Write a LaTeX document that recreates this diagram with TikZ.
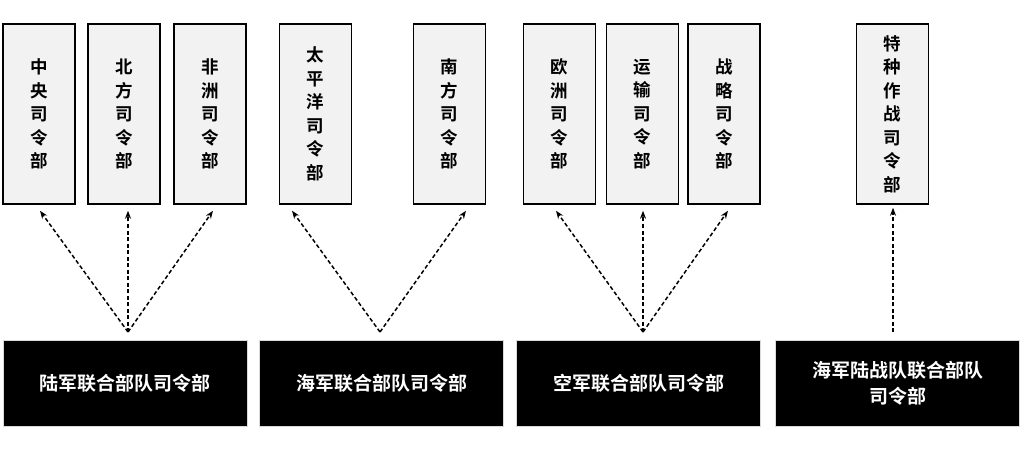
\documentclass[tikz,border=0pt]{standalone}
\usepackage{fontspec}
\newfontfamily\cjk{Noto Sans CJK SC Bold}
\usetikzlibrary{arrows.meta,calc}
\tikzset{
  topbox/.style={draw=black,line width=1.5pt,fill=black!5,minimum width=72pt,minimum height=180pt,inner sep=0pt,align=center,font=\cjk\fontsize{17.5}{23.5}\selectfont},
  cmdbox/.style={draw=black!15,line width=0.5pt,fill=black,text=white,minimum width=244pt,minimum height=86pt,inner sep=0pt,align=center,font=\cjk\fontsize{19}{26}\selectfont},
  link/.style={line width=1.5pt,dash pattern=on 4pt off 2.5pt,-{Stealth[length=8pt,width=6pt]}}
}
\begin{document}
\begin{tikzpicture}[x=1pt,y=-1pt]
\useasboundingbox (0,0) rectangle (1024,454);
% top boxes
\node[topbox] (zy) at (39,114) {中\\央\\司\\令\\部};
\node[topbox] (bf) at (124,114) {北\\方\\司\\令\\部};
\node[topbox] (fz) at (210,114) {非\\洲\\司\\令\\部};
\node[topbox] (tp) at (315.5,114) {太\\平\\洋\\司\\令\\部};
\node[topbox] (nf) at (449.5,114) {南\\方\\司\\令\\部};
\node[topbox] (oz) at (559.5,114) {欧\\洲\\司\\令\\部};
\node[topbox] (ys) at (642.5,114) {运\\输\\司\\令\\部};
\node[topbox] (zl) at (724,114) {战\\略\\司\\令\\部};
\node[topbox] (tz) at (892.5,114) {特\\种\\作\\战\\司\\令\\部};
% bottom boxes
\node[cmdbox] (lj) at (125,383) {陆军联合部队司令部};
\node[cmdbox] (hj) at (381.5,383) {海军联合部队司令部};
\node[cmdbox] (kj) at (638.5,383) {空军联合部队司令部};
\node[cmdbox] (hl) at (897.5,383) {海军陆战队联合部队\\司令部};
% apex points
\coordinate (a1) at (128,332);
\coordinate (a2) at (380,332);
\coordinate (a3) at (643,332);
\coordinate (a4) at (893,332);
% arrows
\draw[link] (a1) -- ($(zy.south)+(1,6)$);
\draw[link] (a1) -- ($(bf.south)+(4,6)$);
\draw[link] (a1) -- ($(fz.south)+(3,6)$);
\draw[link] (a2) -- ($(tp.south)+(-23.5,6)$);
\draw[link] (a2) -- ($(nf.south)+(16.5,6)$);
\draw[link] (a3) -- ($(oz.south)+(-3.5,6)$);
\draw[link] (a3) -- ($(ys.south)+(0.5,6)$);
\draw[link] (a3) -- ($(zl.south)+(4,6)$);
\draw[link] (a4) -- ($(tz.south)+(0.5,3)$);
\end{tikzpicture}
\end{document}
